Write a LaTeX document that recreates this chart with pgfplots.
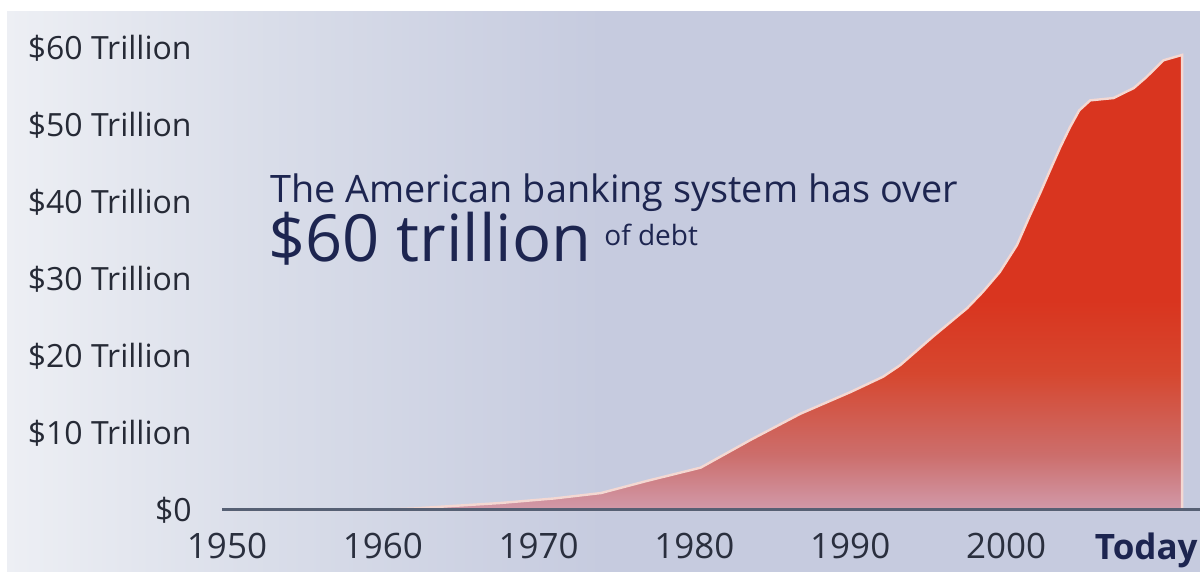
\documentclass[border=0pt]{standalone}
\usepackage{pgfplots}
\pgfplotsset{compat=1.18}
\usepackage{fontspec}
\setmainfont{Open Sans}

\definecolor{bgleft}{HTML}{EDEFF4}
\definecolor{bgmid}{HTML}{D9DDE9}
\definecolor{bgright}{HTML}{C6CBDF}
\definecolor{redtop}{HTML}{D9351F}
\definecolor{redlow}{HTML}{D6472F}
\definecolor{fademid}{HTML}{CC6E6C}
\definecolor{fadebot}{HTML}{D19AAA}
\definecolor{outline}{HTML}{F4D8D2}
\definecolor{baseline}{HTML}{566074}
\definecolor{ylab}{HTML}{262A36}
\definecolor{xlab}{HTML}{2A2F3E}
\definecolor{navy}{HTML}{1D2550}

% shadings: the path is mapped onto 25bp..75bp
\pgfdeclarehorizontalshading{bgshade}{100bp}{color(0bp)=(bgleft); color(25bp)=(bgleft); color(36bp)=(bgmid); color(50bp)=(bgright); color(100bp)=(bgright)}
\pgfdeclareverticalshading{redfade}{100bp}{color(0bp)=(fadebot); color(25bp)=(fadebot); color(31bp)=(fademid); color(40bp)=(redlow); color(48bp)=(redtop); color(100bp)=(redtop)}

\begin{document}
\begin{tikzpicture}
% background, 1px = 0.5pt
\fill[white] (0,0) rectangle (600pt,286pt);
\shade[shading=bgshade] (3.5pt,0) rectangle (600pt,280pt);

\begin{axis}[
  at={(111pt,31pt)}, anchor=south west,
  scale only axis,
  width=489pt, height=231pt,
  xmin=1949.68, xmax=2012.45,
  ymin=0, ymax=60,
  clip=false,
  axis line style={draw=none},
  tick style={draw=none},
  xtick={1950,1960,1970,1980,1990,2000,2009.0},
  xticklabels={1950,1960,1970,1980,1990,2000,{\bfseries\color{navy}Today}},
  ytick={0,10,20,30,40,50,60},
  yticklabels={\$0,\$10 Trillion,\$20 Trillion,\$30 Trillion,\$40 Trillion,\$50 Trillion,\$60 Trillion},
  xticklabel style={anchor=north, inner sep=0pt, yshift=-11.5pt, text=xlab, font=\fontsize{17.5pt}{20pt}\selectfont},
  yticklabel style={anchor=east, inner sep=0pt, xshift=-15pt, text=ylab, font=\fontsize{16pt}{19pt}\selectfont},
]
\addplot[draw=outline, line width=1.2pt, shading=redfade] coordinates {
  (1950,0) (1958,0) (1960,0.05) (1962,0.2) (1964.3,0.5) (1967.5,0.9)
  (1971,1.5) (1974,2.2) (1977,3.8) (1980.4,5.5) (1983.6,9.1)
  (1986.8,12.5) (1990,15.3) (1992.1,17.3) (1993.2,18.8) (1995.3,22.5)
  (1997.5,26.2) (1998.5,28.3) (1999.6,30.9) (2000.7,34.4) (2001.5,38.1)
  (2002.2,41.2) (2002.8,44.0) (2003.5,47.2) (2004.1,49.7) (2004.7,51.9)
  (2005.4,53.2) (2006.9,53.5) (2008.2,54.8) (2009.0,56.2) (2010.1,58.4)
  (2011.3,59.1)
} \closedcycle;
\addplot[draw=baseline, line width=1.5pt] coordinates {(1949.68,0) (2012.45,0)};
\end{axis}

\node[anchor=base west, inner sep=0pt, text=navy] at (135pt,184.5pt)
  {\fontsize{18.9pt}{22pt}\selectfont The American banking system has over};
\node[anchor=base west, inner sep=0pt, text=navy] at (134pt,155pt)
  {\fontsize{32.5pt}{36pt}\selectfont \$60 trillion};
\node[anchor=base west, inner sep=0pt, text=navy] at (302pt,163pt)
  {\fontsize{14pt}{16pt}\selectfont of debt};

\pgfresetboundingbox
\useasboundingbox (0,0) rectangle (600pt,286pt);
\end{tikzpicture}
\end{document}
